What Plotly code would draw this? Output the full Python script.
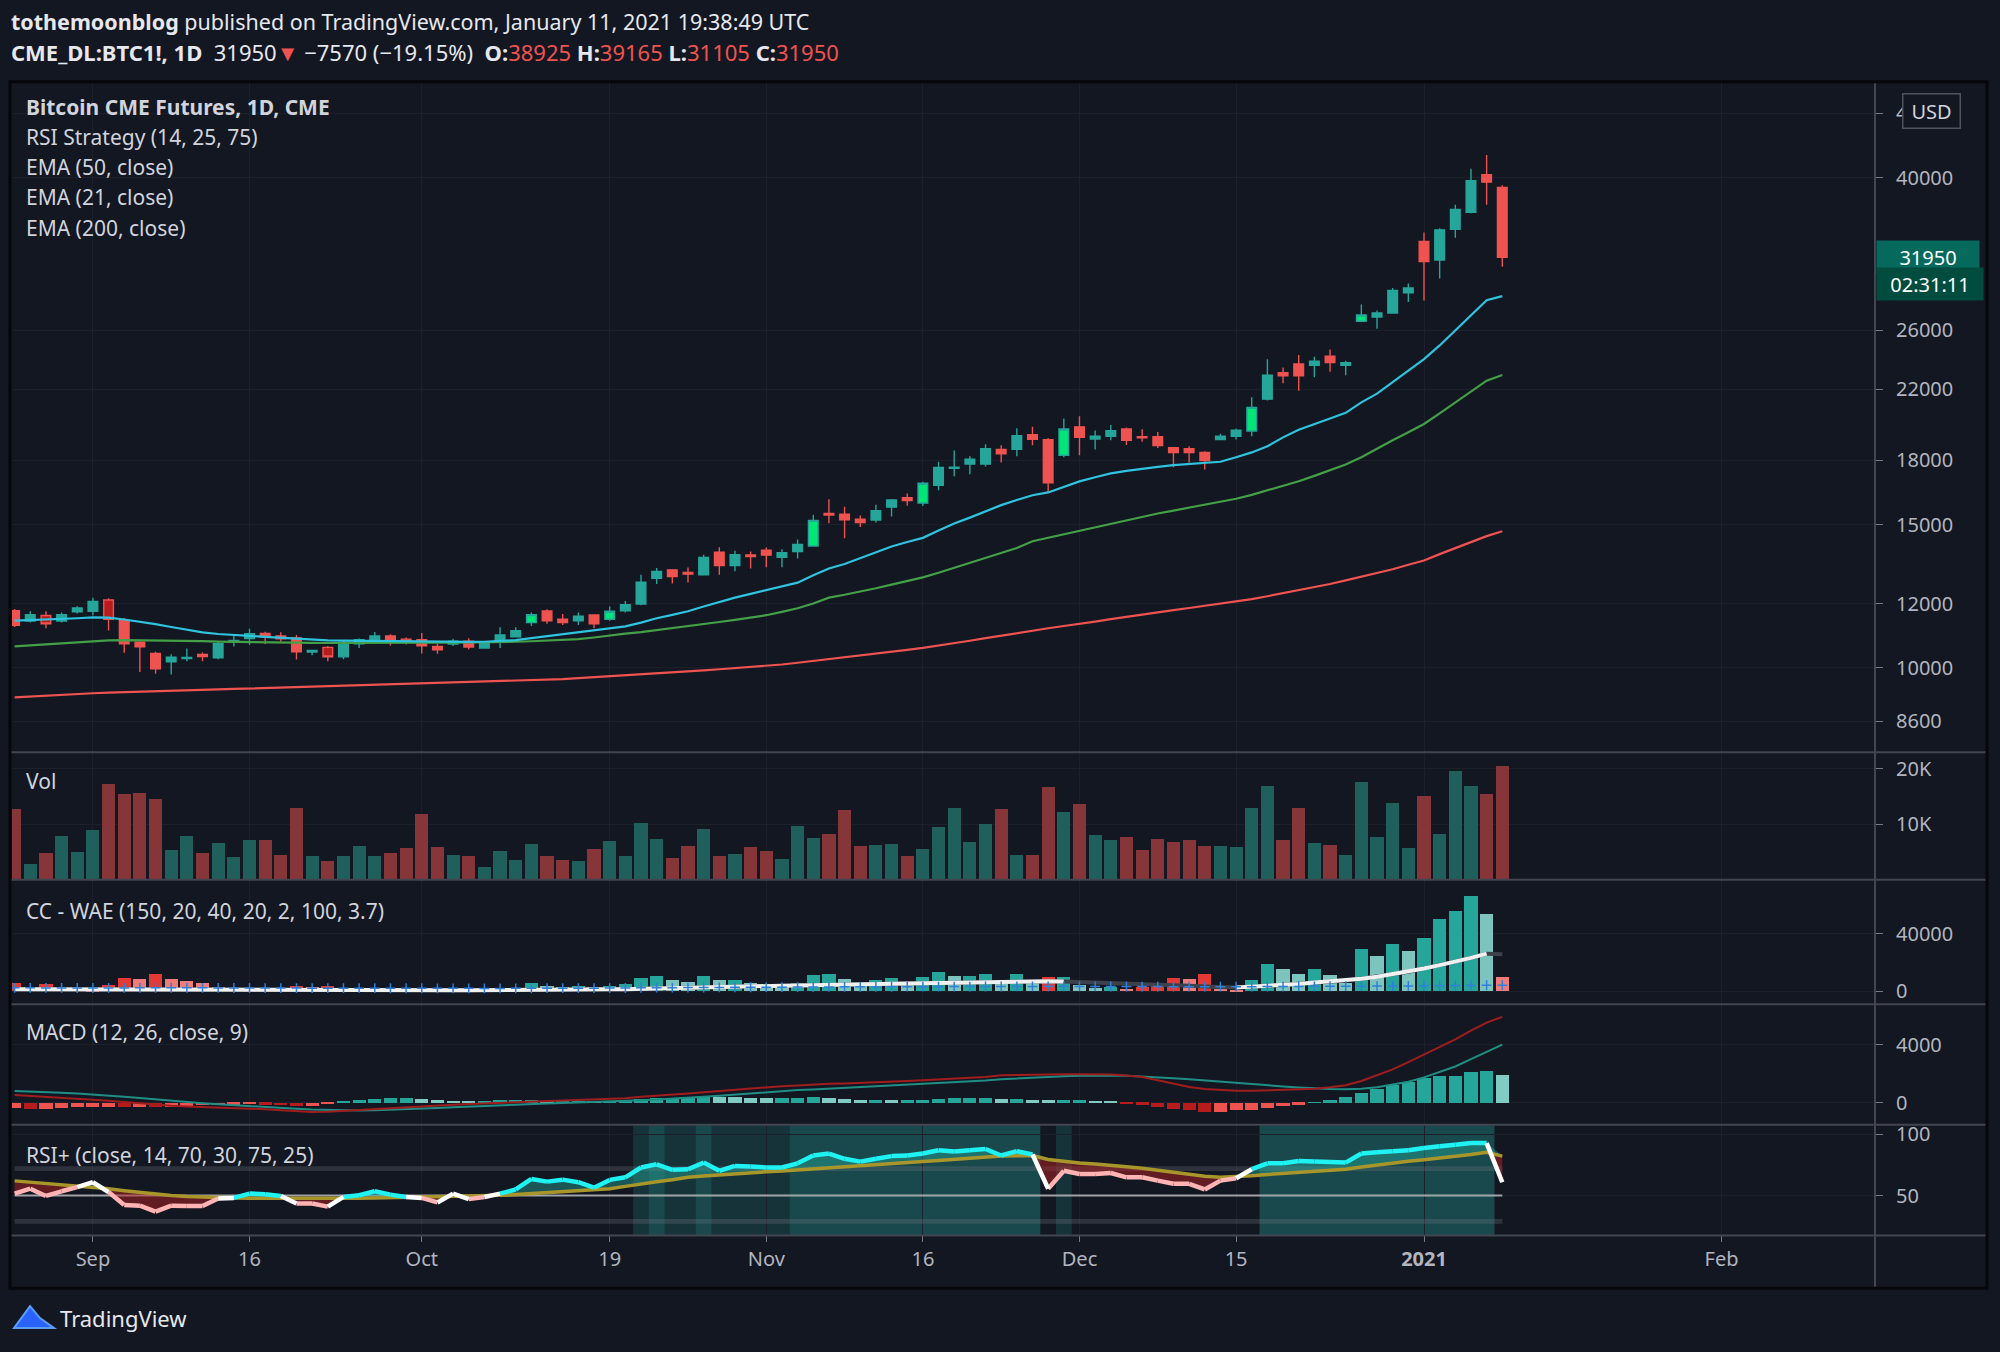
import math
import pandas as pd
import plotly.graph_objects as go

# ---- values (CME BTC1!, daily) ----
dates = [
    "2020-08-25", "2020-08-26", "2020-08-27", "2020-08-28", "2020-08-31",
    "2020-09-01", "2020-09-02", "2020-09-03", "2020-09-04", "2020-09-08",
    "2020-09-09", "2020-09-10", "2020-09-11", "2020-09-14", "2020-09-15",
    "2020-09-16", "2020-09-17", "2020-09-18", "2020-09-21", "2020-09-22",
    "2020-09-23", "2020-09-24", "2020-09-25", "2020-09-28", "2020-09-29",
    "2020-09-30", "2020-10-01", "2020-10-02", "2020-10-05", "2020-10-06",
    "2020-10-07", "2020-10-08", "2020-10-09", "2020-10-12", "2020-10-13",
    "2020-10-14", "2020-10-15", "2020-10-16", "2020-10-19", "2020-10-20",
    "2020-10-21", "2020-10-22", "2020-10-23", "2020-10-26", "2020-10-27",
    "2020-10-28", "2020-10-29", "2020-10-30", "2020-11-02", "2020-11-03",
    "2020-11-04", "2020-11-05", "2020-11-06", "2020-11-09", "2020-11-10",
    "2020-11-11", "2020-11-12", "2020-11-13", "2020-11-16", "2020-11-17",
    "2020-11-18", "2020-11-19", "2020-11-20", "2020-11-23", "2020-11-24",
    "2020-11-25", "2020-11-27", "2020-11-30", "2020-12-01", "2020-12-02",
    "2020-12-03", "2020-12-04", "2020-12-07", "2020-12-08", "2020-12-09",
    "2020-12-10", "2020-12-11", "2020-12-14", "2020-12-15", "2020-12-16",
    "2020-12-17", "2020-12-18", "2020-12-21", "2020-12-22", "2020-12-23",
    "2020-12-24", "2020-12-28", "2020-12-29", "2020-12-30", "2020-12-31",
    "2021-01-04", "2021-01-05", "2021-01-06", "2021-01-07", "2021-01-08",
    "2021-01-11",
]

opens = [
    11760, 11420, 11600, 11420, 11720, 11740, 12120, 11430, 10760, 10420,
    10180, 10270, 10390, 10290, 10750, 10870, 11030, 10950, 10890, 10460,
    10600, 10320, 10710, 10810, 10950, 10850, 10830, 10630, 10700, 10790,
    10580, 10770, 10920, 11370, 11750, 11480, 11430, 11620, 11480, 11760,
    11980, 12890, 13200, 13100, 13020, 13880, 13360, 13770, 13950, 13680,
    13900, 14120, 15480, 15450, 15230, 15200, 15760, 16190, 15950, 16760,
    17590, 17810, 17810, 18560, 18560, 19350, 19080, 18250, 19780, 19110,
    19260, 19660, 19240, 19240, 18650, 18600, 18400, 19080, 19260, 19550,
    21390, 23060, 23630, 23540, 24160, 23540, 26660, 26990, 27290, 28900,
    33410, 31700, 34590, 36290, 40370, 38925,
]
highs = [
    11820, 11740, 11740, 11700, 11910, 12200, 12180, 11520, 10780, 10470,
    10400, 10570, 10450, 10790, 10960, 11170, 11080, 11060, 10980, 10510,
    10640, 10790, 10870, 11070, 11000, 10900, 11040, 10710, 10860, 10880,
    10770, 11220, 11220, 11700, 11810, 11650, 11700, 11640, 11900, 12090,
    13020, 13270, 13220, 13290, 13780, 14070, 13930, 13900, 14060, 13990,
    14380, 15430, 16120, 15780, 15390, 15870, 16130, 16380, 16930, 17920,
    18500, 18200, 18830, 18780, 19700, 19780, 19170, 20250, 20380, 19580,
    19880, 19750, 19640, 19500, 18670, 18720, 18460, 19400, 19680, 21500,
    23940, 23400, 24230, 24120, 24620, 23850, 27960, 27490, 29290, 29660,
    34270, 34680, 37060, 41050, 42680, 39165,
]
lows = [
    11230, 11370, 11190, 11370, 11670, 11600, 11120, 10440, 9890, 9840,
    9820, 10190, 10190, 10250, 10630, 10680, 10700, 10770, 10240, 10370,
    10190, 10250, 10580, 10800, 10660, 10690, 10420, 10410, 10640, 10540,
    10570, 10580, 10900, 11260, 11330, 11290, 11290, 11190, 11430, 11700,
    11940, 12680, 12700, 12740, 13000, 13020, 13150, 13250, 13300, 13300,
    13630, 14100, 15060, 14430, 14900, 15090, 15350, 15820, 15810, 16530,
    17200, 17300, 17680, 17880, 18200, 18780, 16450, 18150, 18250, 18550,
    19040, 18790, 18960, 18630, 17640, 17880, 17530, 19040, 19080, 19260,
    21310, 22370, 21900, 22760, 23120, 22890, 26610, 26110, 27240, 28160,
    28280, 30100, 33760, 36200, 37070, 31105,
]
closes = [
    11280, 11630, 11330, 11630, 11850, 12070, 11480, 10710, 10615, 9980,
    10310, 10300, 10330, 10710, 10810, 11020, 10920, 10860, 10470, 10510,
    10320, 10750, 10830, 10950, 10810, 10750, 10650, 10530, 10790, 10610,
    10760, 10980, 11110, 11630, 11430, 11370, 11580, 11330, 11740, 11960,
    12750, 13140, 12950, 13040, 13670, 13360, 13780, 13710, 13760, 13860,
    14180, 15180, 15410, 15210, 15090, 15600, 16080, 16060, 16860, 17630,
    17650, 18050, 18600, 18330, 19290, 19100, 16890, 19660, 19200, 19260,
    19570, 19040, 19170, 18760, 18390, 18390, 17980, 19260, 19590, 20900,
    22890, 22850, 22850, 23810, 23720, 23720, 27140, 27290, 29100, 29290,
    31560, 34530, 36570, 39670, 39520, 31950,
]

ema21 = [
    11434, 11450, 11460, 11480, 11510, 11540, 11530, 11470, 11400, 11320,
    11230, 11140, 11060, 11010, 10970, 10950, 10920, 10890, 10860, 10840,
    10814, 10805, 10800, 10795, 10785, 10775, 10765, 10755, 10760, 10765,
    10770, 10790, 10820, 10880, 10940, 11000, 11060, 11110, 11170, 11250,
    11370, 11510, 11620, 11740, 11900, 12060, 12200, 12330, 12460, 12590,
    12730, 13000, 13250, 13420, 13650, 13880, 14100, 14280, 14450, 14750,
    15050, 15300, 15580, 15850, 16080, 16300, 16430, 16700, 16950, 17150,
    17340, 17460, 17570, 17660, 17750, 17810, 17870, 17920, 18150, 18400,
    18720, 19200, 19620, 19910, 20250, 20580, 21200, 21730, 22450, 23220,
    23960, 24900, 25970, 27150, 28300, 28630,
]
ema50 = [
    10630, 10660, 10690, 10720, 10760, 10800, 10815, 10820, 10818, 10815,
    10812, 10800, 10790, 10775, 10765, 10755, 10748, 10742, 10738, 10735,
    10732, 10730, 10730, 10732, 10735, 10737, 10740, 10742, 10744, 10746,
    10750, 10760, 10770, 10785, 10800, 10815, 10850, 10900, 10970, 11020,
    11070, 11130, 11190, 11250, 11320, 11390, 11460, 11530, 11610, 11720,
    11840, 12000, 12200, 12300, 12410, 12530, 12660, 12790, 12920, 13090,
    13270, 13460, 13650, 13840, 14040, 14310, 14450, 14600, 14750, 14900,
    15050, 15200, 15340, 15480, 15610, 15740, 15860, 15980, 16140, 16320,
    16530, 16740, 16960, 17220, 17480, 17780, 18150, 18600, 19040, 19480,
    19940, 20550, 21180, 21850, 22540, 22900,
]
ema200 = [
    9200, 9225, 9250, 9270, 9290, 9310, 9325, 9340, 9352, 9364,
    9376, 9388, 9400, 9412, 9424, 9436, 9448, 9460, 9472, 9484,
    9496, 9508, 9520, 9532, 9544, 9556, 9568, 9580, 9592, 9604,
    9616, 9630, 9645, 9660, 9675, 9690, 9715, 9740, 9765, 9790,
    9815, 9840, 9865, 9900, 9935, 9965, 9995, 10028, 10060, 10100,
    10150, 10200, 10260, 10320, 10370, 10420, 10470, 10525, 10585, 10650,
    10720, 10800, 10880, 10960, 11040, 11120, 11190, 11260, 11320, 11400,
    11480, 11560, 11640, 11710, 11780, 11850, 11920, 11990, 12056, 12150,
    12250, 12350, 12460, 12570, 12680, 12810, 12940, 13070, 13220, 13390,
    13555, 13800, 14040, 14300, 14520, 14720,
]

volume = [
    12800, 2760, 4850, 7850, 4970, 8920, 17250, 15500, 15630, 14550,
    5330, 7840, 4850, 6590, 4070, 7070, 7190, 4490, 12930, 4190,
    3410, 4190, 6050, 4190, 4850, 5750, 11860, 5930, 4490, 4190,
    2280, 5150, 3590, 6410, 4190, 3530, 3350, 5450, 6890, 4190,
    10240, 7370, 3890, 6050, 9100, 4190, 4670, 5930, 5150, 3770,
    9640, 7550, 8200, 12520, 6110, 6290, 6470, 4190, 5450, 9460,
    12930, 6770, 9940, 12640, 4370, 4370, 16650, 12160, 13590, 8020,
    7190, 7670, 5330, 7370, 6770, 7070, 6110, 6110, 5930, 12930,
    16950, 7190, 12930, 6590, 6290, 4370, 17550, 7730, 13890, 5630,
    15030, 8200, 19520, 16950, 15510, 20420,
]

# WAE histogram: sign = trend direction (+ up / - down)
wae_hist = [
    -5520, -3220, -5060, -2300, -1400, -900, -4600, -9430, -8900, -12420,
    -8510, -7360, -6210, -3220, -1840, -920, -700, -900, -3910, -3220,
    -3680, -1200, -800, -600, -900, -700, -1000, -800, -500, -700,
    -400, 600, 800, 5520, 3910, 3220, 3680, 3220, 3910, 5060,
    9430, 11040, 8050, 6670, 10580, 7820, 7820, 5980, 5060, 2760,
    5520, 11730, 12190, 8740, 5980, 8050, 9430, 6900, 10120, 13340,
    10580, 11040, 12190, 7130, 12190, 7360, -10120, 10120, 4370, 2300,
    3220, -1840, -2760, -5060, -9430, -8740, -11960, -1840, -690, 7820,
    19090, 15410, 12190, 15410, 11730, 5520, 29440, 24610, 33120, 28290,
    37490, 50830, 55890, 66930, 54050, -10120,
]
wae_explosion = [
    1400, 1350, 1300, 1250, 1200, 1150, 1100, 1150, 1200, 1300,
    1250, 1200, 1150, 1100, 1050, 1000, 950, 900, 900, 900,
    880, 850, 830, 800, 780, 760, 740, 720, 700, 690,
    680, 700, 750, 900, 1000, 1050, 1100, 1150, 1250, 1400,
    1700, 2000, 2200, 2400, 2700, 2900, 3100, 3300, 3600, 3800,
    4000, 4300, 4600, 4800, 4900, 5000, 5100, 5300, 5500, 5800,
    6100, 6300, 6500, 6600, 6800, 6900, 6900, 6800, 6500, 6200,
    5900, 5600, 5200, 4800, 4300, 3800, 3300, 2900, 2530, 2990,
    3680, 4370, 5060, 5980, 6670, 7360, 8740, 10120, 11960, 13570,
    15870, 18170, 20470, 23230, 26220, 25760,
]
wae_deadzone = [
    2300, 2300, 2250, 2250, 2200, 2200, 2200, 2250, 2300, 2350,
    2350, 2300, 2300, 2250, 2200, 2200, 2150, 2150, 2150, 2100,
    2100, 2100, 2050, 2050, 2000, 2000, 2000, 1950, 1950, 1950,
    1900, 1900, 1950, 2000, 2050, 2050, 2100, 2100, 2150, 2200,
    2300, 2400, 2450, 2500, 2550, 2600, 2650, 2700, 2750, 2800,
    2850, 2900, 2950, 3000, 3000, 3050, 3050, 3100, 3100, 3150,
    3200, 3200, 3250, 3250, 3300, 3300, 3350, 3350, 3300, 3300,
    3250, 3250, 3200, 3200, 3150, 3150, 3100, 3100, 3100, 3150,
    3200, 3250, 3300, 3350, 3400, 3450, 3500, 3550, 3600, 3650,
    3700, 3800, 3900, 4000, 4100, 4200,
]
# explosion line shown dimmed on these bars
wae_dim_dates = [
    "2020-12-01", "2020-12-02", "2020-12-03", "2020-12-04", "2020-12-07",
    "2020-12-08", "2020-12-09", "2020-12-10", "2020-12-11", "2020-12-14",
    "2021-01-11",
]

macd_hist = [
    -360, -430, -400, -360, -315, -300, -290, -300, -270, -290,
    -290, -200, -180, -180, -135, -120, -135, -180, -200, -200,
    -90, 135, 180, 270, 315, 315, 250, 180, 135, 110,
    110, 180, 180, 180, 135, 135, 135, 110, 135, 180,
    250, 315, 315, 360, 430, 380, 360, 315, 290, 315,
    315, 400, 315, 270, 200, 200, 160, 160, 160, 250,
    290, 315, 315, 270, 270, 200, 160, 160, 160, 90,
    70, -90, -135, -270, -400, -500, -650, -650, -500, -470,
    -360, -225, -135, 45, 180, 380, 630, 945, 1215, 1420,
    1665, 1820, 1830, 2070, 2180, 1890,
]
macd_line = [
    540, 480, 420, 350, 280, 220, 150, 60, -40, -140,
    -200, -240, -270, -300, -340, -380, -430, -500, -560, -620,
    -600, -540, -460, -380, -320, -270, -220, -170, -120, -80,
    -40, -10, 30, 90, 130, 160, 190, 220, 270, 330,
    420, 490, 540, 650, 740, 830, 920, 1010, 1100, 1150,
    1200, 1270, 1310, 1340, 1395, 1430, 1470, 1510, 1550, 1590,
    1665, 1720, 1780, 1890, 1920, 1950, 1960, 1970, 1975, 1980,
    1950, 1880, 1780, 1550, 1300, 1100, 950, 880, 840, 830,
    860, 890, 920, 980, 1080, 1215, 1500, 1900, 2300, 2800,
    3300, 3800, 4350, 4950, 5500, 5900,
]
macd_signal = [
    820, 790, 750, 700, 640, 580, 510, 430, 340, 240,
    150, 60, -20, -90, -160, -230, -290, -350, -400, -450,
    -490, -520, -520, -500, -470, -430, -390, -340, -290, -240,
    -190, -150, -110, -80, -40, 0, 30, 60, 90, 140,
    190, 240, 290, 350, 420, 500, 580, 670, 765, 830,
    880, 930, 980, 1030, 1100, 1150, 1200, 1250, 1300, 1340,
    1395, 1460, 1530, 1620, 1680, 1740, 1790, 1830, 1860, 1890,
    1880, 1860, 1820, 1760, 1700, 1620, 1530, 1440, 1350, 1270,
    1200, 1130, 1060, 1000, 960, 945, 980, 1080, 1250, 1450,
    1750, 2100, 2500, 3000, 3500, 4000,
]

rsi = [
    51.6, 55.6, 49.7, 53.5, 56.9, 60.9, 52.9, 42.3, 41.8, 37.0,
    41.8, 41.5, 41.5, 47.6, 48.1, 51.6, 51.1, 49.7, 43.6, 43.6,
    41.0, 48.9, 50.3, 53.5, 50.8, 48.9, 48.1, 44.4, 51.6, 47.1,
    48.9, 51.6, 55.0, 63.6, 61.4, 63.0, 60.9, 56.4, 62.8, 64.9,
    72.9, 75.5, 71.0, 71.5, 76.9, 70.2, 74.2, 73.7, 72.9, 72.9,
    76.3, 82.7, 84.3, 80.0, 77.7, 80.0, 82.2, 82.7, 84.3, 87.0,
    85.9, 87.0, 88.0, 82.7, 86.2, 83.5, 55.6, 70.2, 67.6, 67.6,
    68.4, 64.9, 64.9, 62.2, 59.6, 59.6, 55.0, 62.2, 64.1, 71.5,
    76.3, 76.3, 78.2, 77.7, 77.4, 76.9, 84.3, 85.4, 86.2, 87.0,
    88.8, 90.2, 91.5, 92.8, 92.8, 60.9,
]
rsi_signal = [
    62.0, 61.0, 60.0, 59.0, 58.0, 57.0, 55.5, 54.0, 52.5, 51.0,
    50.0, 49.2, 48.6, 48.2, 48.0, 47.9, 47.8, 47.7, 47.6, 47.6,
    47.5, 47.6, 47.8, 48.0, 48.2, 48.4, 48.6, 48.8, 49.0, 49.2,
    49.7, 50.2, 50.8, 51.6, 52.4, 53.2, 54.0, 54.8, 55.6, 57.5,
    59.6, 61.3, 63.0, 64.9, 66.0, 67.0, 67.8, 68.6, 69.4, 70.0,
    70.8, 71.5, 72.5, 73.4, 74.3, 75.2, 76.0, 76.9, 77.8, 78.7,
    79.6, 80.5, 81.4, 82.2, 82.5, 82.7, 79.5, 77.8, 76.6, 75.7,
    74.8, 73.6, 72.2, 70.5, 68.8, 67.2, 65.8, 65.0, 65.3, 66.2,
    67.2, 68.1, 68.9, 69.7, 70.6, 71.5, 73.3, 75.1, 76.9, 78.0,
    79.2, 80.5, 81.8, 83.5, 85.4, 82.2,
]

# RSI strategy signal bars (bar colouring) and background zones
long_bars = ["2020-10-12", "2020-10-19", "2020-11-05", "2020-11-16",
             "2020-11-30", "2020-12-16", "2020-12-28"]
short_bars = ["2020-08-27", "2020-09-02", "2020-09-23"]
rsi_zone_a = [("2020-10-21", "2020-11-25"), ("2020-11-30", "2020-11-30"),
              ("2020-12-17", "2021-01-08")]
rsi_zone_b = [("2020-10-22", "2020-10-22"), ("2020-10-27", "2020-10-27"),
              ("2020-11-04", "2020-11-25"), ("2020-12-17", "2021-01-08")]

# drawn support box: (start, end, low, high)
support_box = ("2020-12-24", "2021-01-13", 24070, 26150)

last_price = 31950
holidays = ["2020-09-07", "2020-11-26", "2020-12-25", "2021-01-01",
            "2021-01-18", "2021-02-15"]
tick_dates = ["2020-09-01", "2020-09-16", "2020-10-01", "2020-10-19", "2020-11-02",
              "2020-11-16", "2020-12-01", "2020-12-15", "2021-01-04", "2021-02-01"]
tick_labels = ["Sep", "16", "Oct", "19", "Nov", "16", "Dec", "15", "2021", "Feb"]
price_ticks = [8600, 10000, 12000, 15000, 18000, 22000, 26000, 40000, 48000]

# ---- styling ----
W, H = 2000, 1352
BG = "#131722"
GRID = "#1c202b"
SEP = "#434651"
TXT = "#d1d4dc"
AXT = "#b2b5be"
UP, DOWN = "#26a69a", "#ef5350"
FONT = "Noto Sans"
DAY = 86400000


def px_y(p):
    return 1 - p / H


def px_x(p):
    return p / W


half = pd.Timedelta(hours=12)
x = [pd.Timestamp(d) + half for d in dates]

fig = go.Figure()

# candles
def subset(keep):
    idx = [i for i, d in enumerate(dates) if keep(d)]
    return dict(x=[x[i] for i in idx], open=[opens[i] for i in idx],
                high=[highs[i] for i in idx], low=[lows[i] for i in idx],
                close=[closes[i] for i in idx])


def candle(data, up_fill, down_fill):
    return go.Candlestick(
        **data, whiskerwidth=0, hoverinfo="skip", showlegend=False,
        increasing=dict(line=dict(color=UP, width=1.4), fillcolor=up_fill),
        decreasing=dict(line=dict(color=DOWN, width=1.4), fillcolor=down_fill),
        xaxis="x", yaxis="y")


fig.add_trace(candle(subset(lambda d: d not in long_bars and d not in short_bars), UP, DOWN))
fig.add_trace(candle(subset(lambda d: d in long_bars), "#00e676", DOWN))
fig.add_trace(candle(subset(lambda d: d in short_bars), UP, "#b71c1c"))

for vals, col in [(ema200, "#ef5350"), (ema50, "#43a047"), (ema21, "#2ec4e0")]:
    fig.add_trace(go.Scatter(x=x, y=vals, mode="lines", line=dict(color=col, width=2.2),
                             hoverinfo="skip", showlegend=False, yaxis="y"))

# volume
vol_colors = ["#1f605d" if c >= o else "#863539" for o, c in zip(opens, closes)]
fig.add_trace(go.Bar(x=x, y=volume, width=0.84 * DAY, marker=dict(color=vol_colors, line_width=0),
                     hoverinfo="skip", showlegend=False, yaxis="y2"))

# WAE
wae_abs = [abs(v) for v in wae_hist]
wae_colors = []
for i, v in enumerate(wae_hist):
    strong = i == 0 or abs(v) >= abs(wae_hist[i - 1])
    if v >= 0:
        wae_colors.append("#26a69a" if strong else "#7cc4bd")
    else:
        wae_colors.append("#e53935" if strong else "#ef7c7a")
fig.add_trace(go.Bar(x=x, y=wae_abs, width=0.84 * DAY, marker=dict(color=wae_colors, line_width=0),
                     hoverinfo="skip", showlegend=False, yaxis="y3"))
fig.add_trace(go.Scatter(x=x, y=wae_explosion, mode="lines", line=dict(color="#3d414c", width=4),
                         hoverinfo="skip", showlegend=False, yaxis="y3"))
bright = [None if d in wae_dim_dates else v for d, v in zip(dates, wae_explosion)]
fig.add_trace(go.Scatter(x=x, y=bright, mode="lines", line=dict(color="#f0f0f0", width=4),
                         hoverinfo="skip", showlegend=False, yaxis="y3", connectgaps=False))
fig.add_trace(go.Scatter(x=x, y=wae_deadzone, mode="markers",
                         marker=dict(symbol="cross-thin", size=7, line=dict(color="#2f7fd8", width=1.5)),
                         hoverinfo="skip", showlegend=False, yaxis="y3"))

# MACD
macd_colors = []
for i, v in enumerate(macd_hist):
    prev = macd_hist[i - 1] if i else v
    if v >= 0:
        macd_colors.append("#26a69a" if v >= prev else "#80cbc4")
    else:
        macd_colors.append("#b71c1c" if v < prev else "#ef5350")
fig.add_trace(go.Bar(x=x, y=macd_hist, width=0.84 * DAY, marker=dict(color=macd_colors, line_width=0),
                     hoverinfo="skip", showlegend=False, yaxis="y4"))
fig.add_trace(go.Scatter(x=x, y=macd_signal, mode="lines", line=dict(color="#1f8f85", width=2),
                         hoverinfo="skip", showlegend=False, yaxis="y4"))
fig.add_trace(go.Scatter(x=x, y=macd_line, mode="lines", line=dict(color="#a11d1d", width=2),
                         hoverinfo="skip", showlegend=False, yaxis="y4"))

# RSI+
span = [x[0], x[-1]]
for lo, hi in [(70, 74), (27, 31)]:
    fig.add_trace(go.Scatter(x=span, y=[lo, lo], mode="lines", line=dict(width=0),
                             hoverinfo="skip", showlegend=False, yaxis="y5"))
    fig.add_trace(go.Scatter(x=span, y=[hi, hi], mode="lines", line=dict(width=0), fill="tonexty",
                             fillcolor="rgba(120,123,134,0.28)", hoverinfo="skip",
                             showlegend=False, yaxis="y5"))
fig.add_trace(go.Scatter(x=span, y=[50, 50], mode="lines", line=dict(color="rgba(220,220,220,0.7)", width=2),
                         hoverinfo="skip", showlegend=False, yaxis="y5"))

upper = [max(a, b) for a, b in zip(rsi, rsi_signal)]
lower = [min(a, b) for a, b in zip(rsi, rsi_signal)]
for edge, col in [(upper, "rgba(38,166,154,0.45)"), (lower, "rgba(178,34,34,0.5)")]:
    fig.add_trace(go.Scatter(x=x, y=rsi_signal, mode="lines", line=dict(width=0),
                             hoverinfo="skip", showlegend=False, yaxis="y5"))
    fig.add_trace(go.Scatter(x=x, y=edge, mode="lines", line=dict(width=0), fill="tonexty",
                             fillcolor=col, hoverinfo="skip", showlegend=False, yaxis="y5"))
fig.add_trace(go.Scatter(x=x, y=rsi_signal, mode="lines", line=dict(color="#a8962a", width=3.5),
                         hoverinfo="skip", showlegend=False, yaxis="y5"))

segs = {"up": ([], []), "down": ([], []), "cross": ([], [])}
for i in range(len(rsi) - 1):
    a = rsi[i] >= rsi_signal[i]
    b = rsi[i + 1] >= rsi_signal[i + 1]
    key = "up" if a and b else ("down" if not a and not b else "cross")
    segs[key][0].extend([x[i], x[i + 1], None])
    segs[key][1].extend([rsi[i], rsi[i + 1], None])
for key, col in [("down", "#ffb3b3"), ("up", "#1ff2f2"), ("cross", "#ffffff")]:
    fig.add_trace(go.Scatter(x=segs[key][0], y=segs[key][1], mode="lines",
                             line=dict(color=col, width=4.5), hoverinfo="skip",
                             showlegend=False, yaxis="y5"))

# ---- axes ----
dom_x = [px_x(12), px_x(1875)]
panels = {  # pixel rows of each pane
    "y": (77, 750), "y2": (750, 878), "y3": (878, 1003), "y4": (1003, 1124), "y5": (1124, 1235),
}
axis_font = dict(family=FONT, size=20, color=AXT)


def yaxis(key, **kw):
    top, bot = panels[key]
    base = dict(domain=[px_y(bot), px_y(top)], side="right", anchor="x", showgrid=True,
                gridcolor=GRID, gridwidth=1, zeroline=False, showline=False, ticks="outside",
                ticklen=7, tickcolor="#787b86", tickfont=axis_font, ticklabelstandoff=9,
                fixedrange=True)
    base.update(kw)
    return base


fig.update_layout(
    width=W, height=H, margin=dict(l=0, r=0, t=0, b=0), autosize=False,
    paper_bgcolor=BG, plot_bgcolor=BG, showlegend=False, bargap=0, boxgap=0.12,
    font=dict(family=FONT, color=TXT),
    xaxis=dict(
        domain=dom_x, anchor="y5", type="date",
        range=["2020-08-25 08:00", "2021-02-16 07:12"],
        rangebreaks=[dict(bounds=["sat", "mon"]), dict(values=holidays)],
        tickvals=[pd.Timestamp(d) + half for d in tick_dates],
        ticktext=["<b>%s</b>" % t if t == "2021" else t for t in tick_labels],
        showgrid=True, gridcolor=GRID, gridwidth=1, zeroline=False, showline=False,
        ticks="outside", ticklen=6, tickcolor="#787b86", tickfont=dict(family=FONT, size=20, color=AXT),
        rangeslider=dict(visible=False), fixedrange=True,
    ),
    yaxis=yaxis("y", type="log", range=[math.log10(7880), math.log10(52500)],
                tickvals=price_ticks, ticktext=[str(v) for v in price_ticks]),
    yaxis2=yaxis("y2", range=[0, 23000], tickvals=[10000, 20000], ticktext=["10K", "20K"]),
    yaxis3=yaxis("y3", range=[-9200, 77900], tickvals=[0, 40000], ticktext=["0", "40000"]),
    yaxis4=yaxis("y4", range=[-1500, 6760], tickvals=[0, 4000], ticktext=["0", "4000"]),
    yaxis5=yaxis("y5", range=[17.5, 107.7], tickvals=[50, 100], ticktext=["50", "100"]),
)

shapes = []
# RSI background zones
for zones in (rsi_zone_a, rsi_zone_b):
    for d0, d1 in zones:
        shapes.append(dict(type="rect", xref="x", yref="y5 domain", x0=d0 + " 00:00",
                           x1=(pd.Timestamp(d1) + pd.Timedelta(days=1)).strftime("%Y-%m-%d %H:%M"),
                           y0=0, y1=1, fillcolor="rgba(38,166,154,0.2)", line=dict(width=0),
                           layer="below"))
# last-price dotted line
shapes.append(dict(type="line", xref="paper", yref="y", x0=dom_x[0], x1=dom_x[1],
                   y0=math.log10(last_price), y1=math.log10(last_price),
                   line=dict(color="rgba(38,166,154,0.55)", width=1.5, dash="dot")))
# support box
b0, b1, blo, bhi = support_box
shapes.append(dict(type="rect", xref="x", yref="y", x0=b0 + " 12:00", x1=b1 + " 12:00",
                   y0=math.log10(blo), y1=math.log10(bhi),
                   fillcolor="rgba(255,204,77,0.28)", line=dict(color="rgba(214,170,60,0.75)", width=1.5)))
# pane separators and frame
for row in (750, 878, 1003, 1124, 1235):
    shapes.append(dict(type="line", xref="paper", yref="paper", x0=px_x(10), x1=px_x(1987),
                       y0=px_y(row), y1=px_y(row), line=dict(color=SEP, width=2)))
shapes.append(dict(type="line", xref="paper", yref="paper", x0=px_x(1875), x1=px_x(1875),
                   y0=px_y(77), y1=px_y(1288), line=dict(color=SEP, width=2)))
shapes.append(dict(type="rect", xref="paper", yref="paper", x0=px_x(10), x1=px_x(1987),
                   y0=px_y(1288), y1=px_y(77), line=dict(color="#05070b", width=3)))
# TradingView logo mark
shapes.append(dict(type="path", xref="paper", yref="paper",
                   path="M %f %f L %f %f L %f %f L %f %f Z" % (
                       px_x(14), px_y(1328), px_x(30), px_y(1306), px_x(40), px_y(1318),
                       px_x(54), px_y(1328)),
                   fillcolor="#2962ff", line=dict(color="#5b9cf6", width=2)))
fig.update_layout(shapes=shapes)

ann = []


def text(s, px, py, size=20, color=TXT, **kw):
    ann.append(dict(text=s, xref="paper", yref="paper", x=px_x(px), y=px_y(py), xanchor="left",
                    yanchor="middle", showarrow=False, font=dict(family=FONT, size=size, color=color), **kw))


text("<b>tothemoonblog</b> published on TradingView.com, January 11, 2021 19:38:49 UTC", 9, 17,
     size=21.5, color="#e6e8ee")
red = "<span style='color:#ef5350'>%s</span>"
text("<b>CME_DL:BTC1!, 1D</b>  31950" + red % "▼" + " −7570 (−19.15%)  <b>O:</b>" + red % "38925"
     + " <b>H:</b>" + red % "39165" + " <b>L:</b>" + red % "31105" + " <b>C:</b>" + red % "31950",
     9, 47, size=22, color="#e6e8ee")

legend = ["<b>Bitcoin CME Futures, 1D, CME</b>", "RSI Strategy (14, 25, 75)", "EMA (50, close)",
          "EMA (21, close)", "EMA (200, close)"]
for k, s in enumerate(legend):
    text(s, 24, 102 + k * 30.4, size=21)
text("Vol", 24, 779, size=21)
text("CC - WAE (150, 20, 40, 20, 2, 100, 3.7)", 24, 909, size=21)
text("MACD (12, 26, close, 9)", 24, 1031, size=21)
text("RSI+ (close, 14, 70, 30, 75, 25)", 24, 1154, size=21)
text("TradingView", 58, 1318, size=22, color="#e6e8ee")

ann.append(dict(text="31950", xref="paper", yref="y", x=px_x(1876), y=math.log10(last_price),
                xanchor="left", yanchor="middle", showarrow=False, bgcolor="#05695c",
                width=100, height=30, align="center",
                font=dict(family=FONT, size=20, color="#ffffff")))
ann.append(dict(text="02:31:11", xref="paper", yref="paper", x=px_x(1876), y=px_y(280),
                xanchor="left", yanchor="middle", showarrow=False, bgcolor="#004d40",
                width=104, height=30, align="center",
                font=dict(family=FONT, size=20, color="#ffffff")))
ann.append(dict(text="USD", xref="paper", yref="paper", x=px_x(1931), y=px_y(106),
                xanchor="center", yanchor="middle", showarrow=False, bgcolor=BG,
                bordercolor="#50535e", borderwidth=1.5, borderpad=3, width=50,
                font=dict(family=FONT, size=20, color=TXT)))
fig.update_layout(annotations=ann)

fig.write_html("out.html", config={"displayModeBar": False},
               post_script="document.body.style.margin='0';document.body.style.overflow='hidden';")
